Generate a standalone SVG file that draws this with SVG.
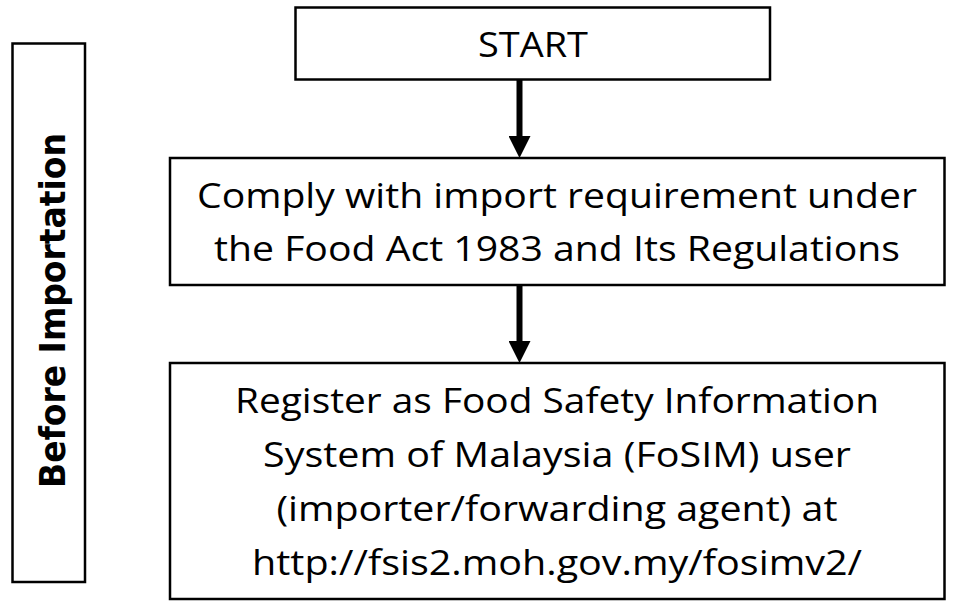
<svg xmlns="http://www.w3.org/2000/svg" width="971" height="602" viewBox="0 0 971 602">
<style>
.box{fill:#fff;stroke:#000;stroke-width:2.5}
.t{font-family:"Open Sans","Noto Sans","Liberation Sans",sans-serif;font-size:35px;fill:#000;text-anchor:middle}
.side{font-family:"DejaVu Sans","Liberation Sans",sans-serif;font-weight:bold;font-size:36px;fill:#000;text-anchor:middle}
.conn{stroke:#000;stroke-width:6;fill:none}
</style>
<defs>
<marker id="ah" markerUnits="userSpaceOnUse" markerWidth="22" markerHeight="22" refX="9" refY="11" orient="auto">
<path d="M0,0 L22,11 L0,22 z" fill="#000"/>
</marker>
</defs>
<rect width="971" height="602" fill="#fff"/>
<g id="phase">
<rect class="box" x="12.5" y="43.5" width="72.5" height="538.5"/>
<text class="side" transform="translate(65,310.5) rotate(-90)" textLength="355" lengthAdjust="spacingAndGlyphs">Before Importation</text>
</g>
<g id="start">
<rect class="box" x="295.5" y="7.5" width="474.5" height="72"/>
<text class="t" x="533" y="57" textLength="110" lengthAdjust="spacingAndGlyphs">START</text>
</g>
<g id="comply">
<rect class="box" x="170" y="158" width="774.5" height="127"/>
<text class="t" x="557" y="208" textLength="720" lengthAdjust="spacingAndGlyphs">Comply with import requirement under</text>
<text class="t" x="557" y="261" textLength="686" lengthAdjust="spacingAndGlyphs">the Food Act 1983 and Its Regulations</text>
</g>
<g id="register">
<rect class="box" x="170" y="363" width="774.5" height="236"/>
<text class="t" x="557" y="413" textLength="644" lengthAdjust="spacingAndGlyphs">Register as Food Safety Information</text>
<text class="t" x="557" y="467" textLength="588" lengthAdjust="spacingAndGlyphs">System of Malaysia (FoSIM) user</text>
<text class="t" x="557" y="521" textLength="561" lengthAdjust="spacingAndGlyphs">(importer/forwarding agent) at</text>
<text class="t" x="557" y="575" textLength="610" lengthAdjust="spacingAndGlyphs">http://fsis2.moh.gov.my/fosimv2/</text>
</g>
<g id="connectors">
<line class="conn" x1="519.5" y1="80" x2="519.5" y2="145" marker-end="url(#ah)"/>
<line class="conn" x1="519.5" y1="286" x2="519.5" y2="350" marker-end="url(#ah)"/>
</g>
</svg>
